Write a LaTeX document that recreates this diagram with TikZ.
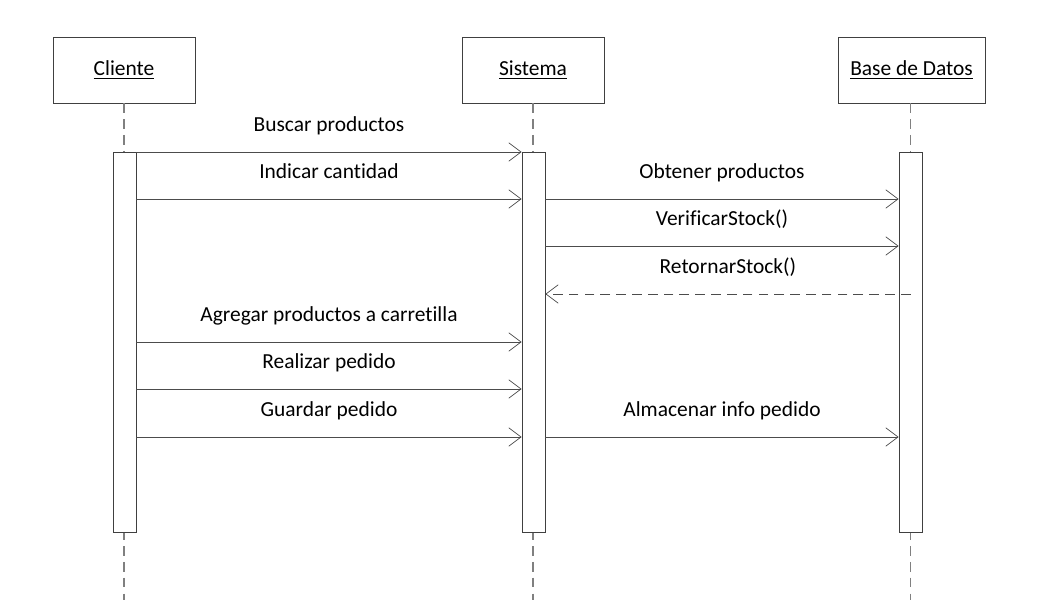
\documentclass[tikz,border=0pt]{standalone}
\usepackage{fontspec}
\setmainfont{Carlito}[Ligatures=NoCommon]
\usetikzlibrary{arrows.meta}
\tikzset{>={Straight Barb[length=7pt,width=10.5pt]},every node/.style={font=\fontsize{12.2}{14}\selectfont},
obj/.style={draw=black!75,fill=white,minimum width=2.84cm,minimum height=1.32cm,inner sep=0pt},
act/.style={draw=black!75,fill=white,minimum width=0.46cm,minimum height=7.6cm,inner sep=0pt,anchor=north},
life/.style={draw=black!50,line width=.7pt,dash pattern=on 5.5pt off 3.5pt},
msg/.style={draw=black!70,->},ret/.style={msg,dash pattern=on 5.5pt off 3.5pt},
lbl/.style={midway,anchor=base,yshift=11.9pt}}

\begin{document}
\begin{tikzpicture}[x=0.02cm,y=-0.02cm]
\useasboundingbox (0,0) rectangle (1045,605);
% objetos
\node[obj] (cli) at (124,70) {\underline{Cliente}};
\node[obj] (sis) at (533,70) {\underline{Sistema}};
\node[obj,minimum width=2.94cm] (bd) at (911.5,70) {\underline{Base de Datos}};
\coordinate (cliend) at (124,600);\coordinate (sisend) at (533,600);\coordinate (bdend) at (910.5,600);
\draw[life] (cli) -- (cliend);\draw[life] (sis) -- (sisend);\draw[life] (bd.south -| bdend) -- (bdend);
% activaciones
\node[act] (acli) at (124.5,152) {};
\node[act] (asis) at (533.5,152) {};
\node[act] (abd) at (910.5,152) {};
% mensajes
\foreach \y/\txt in {152/Buscar productos,199/Indicar cantidad,342/Agregar productos a carretilla,389/Realizar pedido,437/Guardar pedido}
\draw[msg] (acli.east |- 0,\y) -- (asis.west |- 0,\y) node[lbl]{\txt};
\foreach \y/\txt in {199/Obtener productos,246/VerificarStock(),437/Almacenar info pedido}
\draw[msg] (asis.east |- 0,\y) -- (abd.west |- 0,\y) node[lbl]{\txt};
\draw[ret] (abd.center |- 0,294) -- (asis.east |- 0,294) node[lbl]{RetornarStock()};
\end{tikzpicture}
\end{document}
